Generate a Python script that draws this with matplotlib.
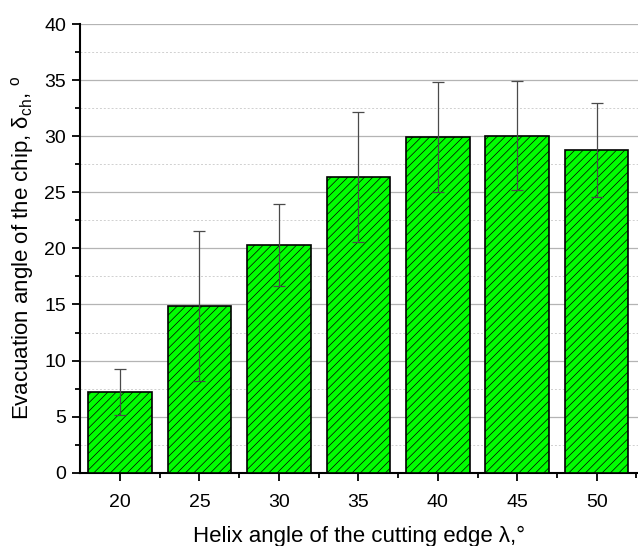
import matplotlib
matplotlib.use("Agg")
import matplotlib.pyplot as plt
from matplotlib.ticker import MultipleLocator

# data
helix_angle = [20, 25, 30, 35, 40, 45, 50]
evac_angle = [7.23, 14.88, 20.3, 26.35, 29.95, 30.05, 28.75]
evac_err = [2.05, 6.7, 3.65, 5.8, 4.9, 4.85, 4.2]

plt.rcParams['font.family'] = ['Liberation Sans', 'DejaVu Sans']
plt.rcParams['hatch.linewidth'] = 0.5
plt.rcParams['hatch.color'] = '#2a2a2a'

fig = plt.figure(figsize=(6.38, 5.46), dpi=100)
ax = fig.add_axes([0.1254, 0.1342, 0.8746, 0.8218])

ax.bar(helix_angle, evac_angle, width=4.0, color='#00ff00', edgecolor='black',
       linewidth=1.2, hatch='////', zorder=3)
ax.errorbar(helix_angle, evac_angle, yerr=evac_err, fmt='none', ecolor='#4a4a4a',
            elinewidth=0.9, capsize=4, capthick=0.9, zorder=4)

ax.set_xlim(17.48, 52.6)
ax.set_ylim(0, 40)
ax.set_xticks(helix_angle)
ax.set_xticks([22.5, 27.5, 32.5, 37.5, 42.5, 47.5, 52.5], minor=True)
ax.yaxis.set_major_locator(MultipleLocator(5))
ax.yaxis.set_minor_locator(MultipleLocator(2.5))

ax.grid(axis='y', which='major', color='#b4b4b4', linewidth=0.9, zorder=0)
ax.grid(axis='y', which='minor', color='#d0d0d0', linewidth=0.7, linestyle=(0, (2, 2)), zorder=0)
ax.set_axisbelow(True)

for s in ['top', 'right']:
    ax.spines[s].set_visible(False)
for s in ['left', 'bottom']:
    ax.spines[s].set_linewidth(1.5)

ax.tick_params(which='major', direction='out', length=6, width=1.3, labelsize=14, pad=4)
ax.tick_params(which='minor', direction='out', length=3.5, width=1.3)
ax.tick_params(axis='x', pad=9)

ax.set_xlabel('Helix angle of the cutting edge λ,°', fontsize=16, labelpad=11)
ax.set_ylabel('Evacuation angle of the chip, δ$_\\mathregular{ch}$, $^\\mathregular{o}$',
              fontsize=16, labelpad=6)

fig.savefig('out.png', dpi=100)
